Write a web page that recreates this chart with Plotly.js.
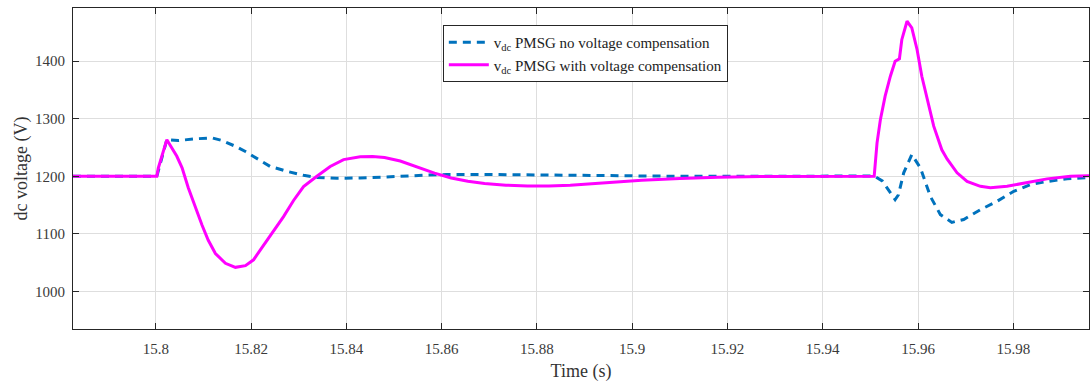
<!DOCTYPE html>
<html>
<head>
<meta charset="utf-8">
<script src="https://cdn.plot.ly/plotly-3.0.1.min.js"></script>
<style>
  html, body { margin: 0; padding: 0; background: #fff; }
  #chart { width: 1090px; height: 389px; }
</style>
</head>
<body>
<div id="chart"></div>
<script>
// DC-link voltage of the PMSG converter, without and with voltage compensation
const timeNoComp = [15.7826, 15.8002, 15.8023, 15.8047, 15.8083, 15.8118, 15.8139, 15.8167, 15.8188, 15.8205,
  15.8240, 15.8275, 15.8310, 15.8338, 15.8380, 15.8429, 15.847, 15.851, 15.856, 15.861,
  15.868, 15.876, 15.885, 15.895, 15.91, 15.93, 15.9508,
  15.9525, 15.9542, 15.9552, 15.9559, 15.9570, 15.9587, 15.9605, 15.9626, 15.9647, 15.9671,
  15.9696, 15.9731, 15.9766, 15.9801, 15.9836, 15.9871, 15.9913, 15.9962];
const vdcNoComp = [1200, 1200, 1263.5, 1262, 1265, 1266.6, 1262, 1252, 1243, 1234.7,
  1217, 1208.7, 1201.7, 1198, 1196.5, 1197, 1198, 1199.8, 1201.8, 1203,
  1203.3, 1202.8, 1201.8, 1200.8, 1200, 1200, 1200.5,
  1192, 1172, 1159.5, 1168, 1206, 1237.7, 1214.6, 1165, 1133.5, 1120,
  1125, 1142, 1156.6, 1174, 1185.6, 1191, 1195.5, 1198];

const timeComp = [15.7826, 15.8002, 15.8005, 15.8023, 15.8044, 15.8055, 15.8068, 15.8083, 15.8097, 15.8110,
  15.8125, 15.8146, 15.8167, 15.8188, 15.8205, 15.8219, 15.8247, 15.8268, 15.8289, 15.8310,
  15.8338, 15.8366, 15.8394, 15.8429, 15.8455, 15.848, 15.8513, 15.855, 15.8585, 15.862,
  15.8655, 15.869, 15.8735, 15.878, 15.8825, 15.887, 15.8912, 15.896, 15.902, 15.91,
  15.918, 15.927, 15.94, 15.9508,
  15.9514, 15.9521, 15.9531, 15.9542, 15.9552, 15.9561, 15.9566, 15.9577, 15.9587, 15.9598,
  15.9608, 15.9619, 15.9633, 15.9650, 15.9661, 15.9682, 15.9703, 15.9731, 15.9752, 15.9787,
  15.9822, 15.9871, 15.9920, 15.9962];
const vdcComp = [1200, 1200, 1214, 1263.5, 1234.7, 1214.6, 1180, 1145, 1115, 1089,
  1066, 1049, 1042, 1045, 1055, 1072, 1104, 1130, 1158, 1182,
  1200, 1217, 1229, 1233.7, 1234.5, 1232.5, 1226.5, 1216, 1205.5, 1197,
  1191.5, 1187.5, 1184.5, 1183, 1183, 1184.5, 1187, 1190, 1193, 1196,
  1198.3, 1199.5, 1200, 1200,
  1258, 1298, 1339, 1373.6, 1399.6, 1404, 1437, 1469, 1457.6, 1420,
  1373.6, 1333, 1287, 1246, 1230, 1206, 1191, 1182.6, 1180, 1182.6,
  1188.5, 1195.5, 1200, 1201];

const yTicks = [1000, 1100, 1200, 1300, 1400];
const xTicks = [15.8, 15.82, 15.84, 15.86, 15.88, 15.9, 15.92, 15.94, 15.96, 15.98];
const xTickText = ['15.8', '15.82', '15.84', '15.86', '15.88', '15.9', '15.92', '15.94', '15.96', '15.98'];

const traces = [
  {
    x: timeNoComp, y: vdcNoComp, type: 'scatter', mode: 'lines',
    name: 'v<sub>dc</sub> PMSG no voltage compensation',
    line: { color: '#0072BD', width: 3, dash: '8px,6px', shape: 'linear' }
  },
  {
    x: timeComp, y: vdcComp, type: 'scatter', mode: 'lines',
    name: 'v<sub>dc</sub> PMSG with voltage compensation',
    line: { color: '#FF00FF', width: 3, shape: 'linear' }
  }
];

const axisCommon = {
  showline: true, linecolor: '#262626', linewidth: 1, mirror: 'allticks',
  ticks: 'inside', ticklen: 6, tickcolor: '#262626', tickwidth: 1,
  showgrid: true, gridcolor: '#dedede', gridwidth: 1, zeroline: false,
  tickfont: { family: 'Liberation Serif, serif', size: 15, color: '#3a3a3a' }
};

const layout = {
  width: 1090, height: 389,
  margin: { l: 73, r: 1, t: 8, b: 60 },
  paper_bgcolor: '#fff', plot_bgcolor: '#fff',
  showlegend: true,
  legend: {
    x: 0.364, y: 0.947, xanchor: 'left', yanchor: 'top',
    bgcolor: '#fff', bordercolor: '#262626', borderwidth: 1,
    font: { family: 'Liberation Serif, serif', size: 15, color: '#222' },
    tracegroupgap: 0, itemwidth: 40
  },
  xaxis: Object.assign({}, axisCommon, {
    range: [15.7826, 15.9959],
    tickvals: xTicks, ticktext: xTickText,
    ticklabelstandoff: 6,
    title: { text: 'Time (s)', standoff: 8, font: { family: 'Liberation Serif, serif', size: 18, color: '#333' } }
  }),
  yaxis: Object.assign({}, axisCommon, {
    range: [935, 1492],
    tickvals: yTicks,
    ticklabelstandoff: 4,
    title: { text: 'dc voltage (V)', standoff: 2, font: { family: 'Liberation Serif, serif', size: 18, color: '#333' } }
  })
};

Plotly.newPlot('chart', traces, layout, { displayModeBar: false, staticPlot: true });
</script>
</body>
</html>
